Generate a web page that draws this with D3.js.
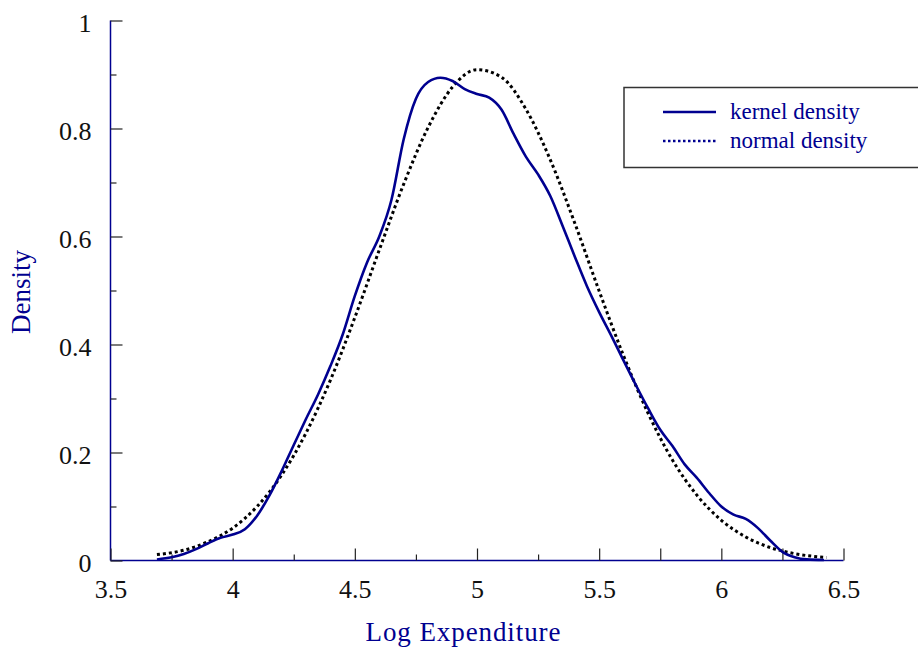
<!DOCTYPE html>
<html>
<head>
<meta charset="utf-8">
<script src="https://cdn.jsdelivr.net/npm/d3@7"></script>
<style>
  html, body { margin: 0; padding: 0; background: #fff; }
  svg { display: block; font-family: "Liberation Serif", "Times New Roman", serif; }
</style>
</head>
<body>
<svg id="chart" width="918" height="651"></svg>
<script>
// ---- data ----
const kernelX = [3.69, 3.75, 3.80, 3.85, 3.90, 3.95, 4.00, 4.05, 4.10, 4.15, 4.20, 4.25, 4.30, 4.35, 4.40, 4.45, 4.50, 4.55, 4.60, 4.65, 4.70, 4.75, 4.80, 4.85, 4.90, 4.95, 5.00, 5.05, 5.10, 5.15, 5.20, 5.25, 5.30, 5.35, 5.40, 5.45, 5.50, 5.55, 5.60, 5.65, 5.70, 5.75, 5.80, 5.85, 5.90, 5.95, 6.00, 6.05, 6.10, 6.15, 6.20, 6.25, 6.30, 6.35, 6.42];
const kernelY = [0.002, 0.006, 0.012, 0.021, 0.032, 0.042, 0.048, 0.058, 0.083, 0.120, 0.165, 0.214, 0.262, 0.308, 0.360, 0.418, 0.490, 0.552, 0.600, 0.668, 0.780, 0.855, 0.886, 0.894, 0.888, 0.873, 0.864, 0.857, 0.835, 0.790, 0.748, 0.715, 0.675, 0.620, 0.563, 0.508, 0.460, 0.416, 0.370, 0.325, 0.282, 0.242, 0.212, 0.178, 0.153, 0.125, 0.100, 0.085, 0.077, 0.060, 0.037, 0.016, 0.006, 0.002, 0.001];

const normalX = [3.69, 3.80, 3.90, 4.00, 4.10, 4.20, 4.30, 4.40, 4.50, 4.60, 4.70, 4.80, 4.90, 5.00, 5.10, 5.20, 5.30, 5.40, 5.50, 5.60, 5.70, 5.80, 5.90, 6.00, 6.10, 6.20, 6.30, 6.43];
const normalY = [0.011, 0.019, 0.035, 0.060, 0.100, 0.158, 0.236, 0.334, 0.450, 0.575, 0.697, 0.802, 0.877, 0.909, 0.895, 0.836, 0.742, 0.625, 0.499, 0.379, 0.273, 0.186, 0.121, 0.0745, 0.0435, 0.024, 0.0127, 0.0055];

const xTickValues = [3.5, 4, 4.5, 5, 5.5, 6, 6.5];
const xTickLabels = ["3.5", "4", "4.5", "5", "5.5", "6", "6.5"];
const xMinorTicks = [3.75, 4.25, 4.75, 5.25, 5.75, 6.25];
const yTickValues = [0, 0.2, 0.4, 0.6, 0.8, 1];
const yTickLabels = ["0", "0.2", "0.4", "0.6", "0.8", "1"];
const yMinorTicks = [0.1, 0.3, 0.5, 0.7, 0.9];

const seriesNames = ["kernel density", "normal density"];
const xTitle = "Log Expenditure";
const yTitle = "Density";

// ---- layout ----
const navy = "#000090";
const svg = d3.select("#chart");
const x = d3.scaleLinear().domain([3.5, 6.5]).range([110.5, 843.5]);
const y = d3.scaleLinear().domain([0, 1]).range([560.5, 20.5]);

// axes lines
svg.append("line").attr("x1", x(3.5)).attr("x2", x(6.5)).attr("y1", y(0)).attr("y2", y(0))
  .attr("stroke", navy).attr("stroke-width", 1.5);
svg.append("line").attr("x1", x(3.5)).attr("x2", x(3.5)).attr("y1", y(0)).attr("y2", y(1))
  .attr("stroke", navy).attr("stroke-width", 1.5);

// x axis ticks (inward)
const xAxis = d3.axisTop(x).tickValues(xTickValues).tickSize(12).tickFormat((d, i) => xTickLabels[i]);
const gx = svg.append("g").attr("transform", `translate(0,${y(0)})`).call(xAxis);
gx.select(".domain").remove();
gx.selectAll(".tick line").attr("stroke", "#222").attr("stroke-width", 1.2);
gx.selectAll(".tick text").attr("y", 37).attr("dy", 0).attr("font-size", 26)
  .attr("fill", "#111").attr("font-family", "Liberation Serif, serif");

const xAxisMinor = d3.axisTop(x).tickValues(xMinorTicks).tickSize(6).tickFormat("");
const gxm = svg.append("g").attr("transform", `translate(0,${y(0)})`).call(xAxisMinor);
gxm.select(".domain").remove();
gxm.selectAll(".tick line").attr("stroke", "#222").attr("stroke-width", 1.2)
  .attr("y2", d => d > 5.5 ? -12 : -6);

// y axis ticks (inward)
const yAxis = d3.axisRight(y).tickValues(yTickValues).tickSize(12).tickFormat((d, i) => yTickLabels[i]);
const gy = svg.append("g").attr("transform", `translate(${x(3.5)},0)`).call(yAxis);
gy.select(".domain").remove();
gy.selectAll(".tick line").attr("stroke", "#222").attr("stroke-width", 1.2);
gy.selectAll(".tick text").attr("x", -19).attr("dy", "0.42em").attr("text-anchor", "end")
  .attr("font-size", 26).attr("fill", "#111").attr("font-family", "Liberation Serif, serif");

const yAxisMinor = d3.axisRight(y).tickValues(yMinorTicks).tickSize(6).tickFormat("");
const gym = svg.append("g").attr("transform", `translate(${x(3.5)},0)`).call(yAxisMinor);
gym.select(".domain").remove();
gym.selectAll(".tick line").attr("stroke", "#222").attr("stroke-width", 1.2);

// curves
const kernelData = kernelX.map((v, i) => [v, kernelY[i]]);
const normalData = normalX.map((v, i) => [v, normalY[i]]);
const line = d3.line().x(d => x(d[0])).y(d => y(d[1])).curve(d3.curveMonotoneX);

svg.append("path").datum(normalData).attr("d", line)
  .attr("fill", "none").attr("stroke", "#000").attr("stroke-width", 3)
  .attr("stroke-dasharray", "3,3");
svg.append("path").datum(kernelData).attr("d", line)
  .attr("fill", "none").attr("stroke", navy).attr("stroke-width", 2.6);

// axis titles
svg.append("text").attr("x", 463).attr("y", 641).attr("text-anchor", "middle")
  .attr("font-size", 27).attr("fill", navy).attr("textLength", 195).text(xTitle);
svg.append("text").attr("transform", "translate(30,292) rotate(-90)").attr("text-anchor", "middle")
  .attr("font-size", 27).attr("fill", navy).text(yTitle);

// legend
const lg = svg.append("g");
lg.append("rect").attr("x", 624).attr("y", 87.5).attr("width", 320).attr("height", 80)
  .attr("fill", "#fff").attr("stroke", "#333").attr("stroke-width", 1.5);
const legendY = [112, 141];
seriesNames.forEach((name, i) => {
  lg.append("line").attr("x1", 663).attr("x2", 716).attr("y1", legendY[i]).attr("y2", legendY[i])
    .attr("stroke", navy).attr("stroke-width", 2.6)
    .attr("stroke-dasharray", i === 0 ? null : "2.5,2.5");
  lg.append("text").attr("x", 730).attr("y", legendY[i]).attr("dy", "0.32em")
    .attr("font-size", 23).attr("fill", navy).text(name);
});
</script>
</body>
</html>
